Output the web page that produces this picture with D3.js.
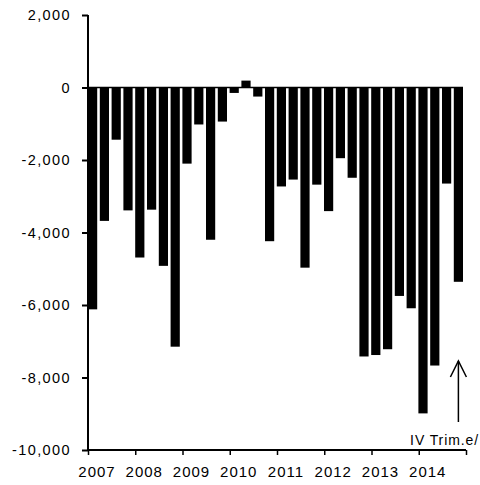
<!DOCTYPE html>
<html>
<head>
<meta charset="utf-8">
<script src="https://cdn.jsdelivr.net/npm/d3@7"></script>
<style>
  body { margin: 0; background: #fff; }
  svg { display: block; }
  text { font-family: "Liberation Sans", Arial, sans-serif; fill: #000; }
</style>
</head>
<body>
<svg id="chart" width="480" height="485"></svg>
<script>
// Data: quarterly values, 2007 Q1 .. 2014 Q4
const years = ["2007","2008","2009","2010","2011","2012","2013","2014"];
const quarters = ["I","II","III","IV"];
const values = [
  -6120, -3680, -1440, -3390,
  -4690, -3370, -4920, -7150,
  -2100, -1020, -4200,  -940,
   -150,   190,  -250, -4240,
  -2730, -2540, -4970, -2680,
  -3410, -1950, -2490, -7420,
  -7380, -7220, -5750, -6090,
  -8990, -7670, -2650, -5360
];
const yTicks = [2000, 0, -2000, -4000, -6000, -8000, -10000];
const annotation = "IV Trim.e/";

const labels = [];
years.forEach(y => quarters.forEach(q => labels.push(y + "-" + q)));
const data = labels.map((l, i) => ({ label: l, value: values[i] }));

const svg = d3.select("#chart");
const fmt = d3.formatLocale({ decimal: ".", thousands: ",", grouping: [3], currency: ["", ""], minus: "-" }).format(",");

const y = d3.scaleLinear().domain([-10000, 2000]).range([450, 15]);
const x = d3.scaleBand().domain(labels).range([88, 463]).paddingInner(0.22).paddingOuter(0);
const xYear = d3.scaleLinear().domain([2007, 2015]).range([88, 466]);

// bars
svg.append("g").selectAll("rect").data(data).join("rect")
  .attr("x", d => x(d.label))
  .attr("width", x.bandwidth())
  .attr("y", d => y(Math.max(0, d.value)))
  .attr("height", d => Math.abs(y(d.value) - y(0)))
  .attr("fill", "#000");

// zero line
svg.append("line")
  .attr("x1", 88).attr("x2", 463)
  .attr("y1", y(0)).attr("y2", y(0))
  .attr("stroke", "#000").attr("stroke-width", 1.5);

// y axis
const yAxis = svg.append("g").attr("transform", "translate(88,0)")
  .call(d3.axisLeft(y).tickValues(yTicks).tickFormat(fmt).tickSize(6).tickPadding(11));
yAxis.select(".domain").attr("stroke", "#000").attr("stroke-width", 2).attr("d", `M0,${y(2000)}V${y(-10000)}`);
yAxis.selectAll(".tick line").attr("stroke", "#000").attr("stroke-width", 2);
yAxis.selectAll(".tick text")
  .style("font-family", "'Liberation Sans', Arial, sans-serif")
  .style("font-size", "14.5px")
  .style("letter-spacing", "1.4px")
  .attr("fill", "#000");

// x axis
const xAxis = svg.append("g").attr("transform", `translate(0,${y(-10000)})`)
  .call(d3.axisBottom(xYear).tickValues(d3.range(2007, 2016)).tickFormat("").tickSize(5));
xAxis.select(".domain").attr("stroke", "#000").attr("stroke-width", 2).attr("d", `M88,0H466`);
xAxis.selectAll(".tick line").attr("stroke", "#000").attr("stroke-width", 1.5);

svg.append("g").selectAll("text").data(years).join("text")
  .attr("x", d => xYear(+d) + 9)
  .attr("y", 477)
  .attr("text-anchor", "middle")
  .style("font-size", "15px")
  .style("letter-spacing", "1px")
  .text(d => d);

// annotation arrow and label
const ax = x(labels[labels.length - 1]) + x.bandwidth() / 2;
svg.append("line")
  .attr("x1", ax).attr("x2", ax).attr("y1", 422).attr("y2", 361)
  .attr("stroke", "#000").attr("stroke-width", 1.5);
svg.append("path")
  .attr("d", `M${ax - 8},377L${ax},361L${ax + 8},377`)
  .attr("fill", "none").attr("stroke", "#000").attr("stroke-width", 1.5);
svg.append("text")
  .attr("x", 479).attr("y", 445)
  .attr("text-anchor", "end")
  .style("font-size", "14px")
  .style("letter-spacing", "0.9px")
  .text(annotation);
</script>
</body>
</html>
